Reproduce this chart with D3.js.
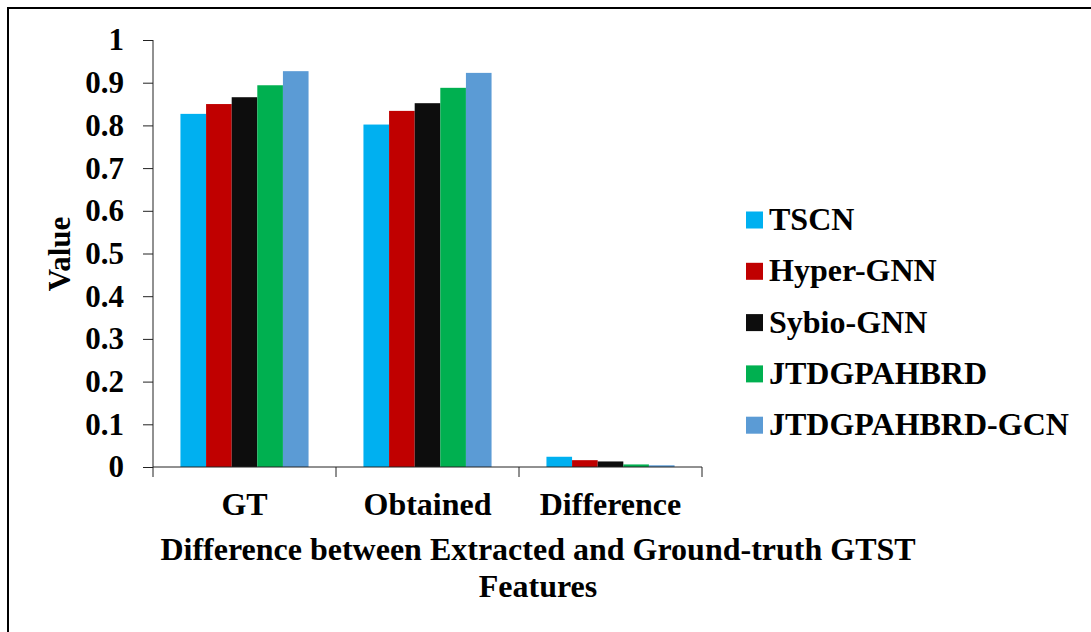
<!DOCTYPE html>
<html>
<head>
<meta charset="utf-8">
<script src="https://cdn.jsdelivr.net/npm/d3@7"></script>
<style>
  body { margin: 0; background: #fff; }
</style>
</head>
<body>
<svg id="chart"></svg>
<script>
// chart data
var categories = ["GT", "Obtained", "Difference"];
var seriesNames = ["TSCN", "Hyper-GNN", "Sybio-GNN", "JTDGPAHBRD", "JTDGPAHBRD-GCN"];
var seriesColors = ["#00B0F0", "#C00000", "#0D0D0D", "#00B050", "#5B9BD5"];
var tscn = [0.827, 0.802, 0.024];
var hyperGnn = [0.850, 0.834, 0.016];
var sybioGnn = [0.866, 0.852, 0.013];
var jtdg = [0.894, 0.888, 0.006];
var jtdgGcn = [0.927, 0.923, 0.004];
var yTicks = [0, 0.1, 0.2, 0.3, 0.4, 0.5, 0.6, 0.7, 0.8, 0.9, 1];

var seriesValues = [tscn, hyperGnn, sybioGnn, jtdg, jtdgGcn];

var width = 1091, height = 632;
var plot = { left: 153, right: 702, top: 40, bottom: 467 };
var serif = "Liberation Serif";

var svg = d3.select("#chart")
    .attr("width", width)
    .attr("height", height)
    .attr("font-family", serif)
    .attr("font-weight", "bold");

// outer frame
svg.append("rect")
    .attr("x", 8)
    .attr("y", 8)
    .attr("width", 1200)
    .attr("height", 800)
    .attr("fill", "none")
    .attr("stroke", "#000")
    .attr("stroke-width", 2);

var x0 = d3.scaleBand()
    .domain(categories)
    .range([plot.left, plot.right]);

var x1 = d3.scaleBand()
    .domain(seriesNames)
    .range([x0.bandwidth() * 0.15, x0.bandwidth() * 0.85]);

var y = d3.scaleLinear()
    .domain([0, 1])
    .range([plot.bottom, plot.top]);

// bars
var group = svg.selectAll(".group")
    .data(categories)
  .enter().append("g")
    .attr("class", "group")
    .attr("transform", function(d) { return "translate(" + x0(d) + ",0)"; });

group.selectAll("rect")
    .data(function(d, i) {
      return seriesNames.map(function(s, j) { return { name: s, value: seriesValues[j][i], color: seriesColors[j] }; });
    })
  .enter().append("rect")
    .attr("x", function(d) { return x1(d.name); })
    .attr("y", function(d) { return y(d.value); })
    .attr("width", x1.bandwidth())
    .attr("height", function(d) { return plot.bottom - y(d.value); })
    .attr("fill", function(d) { return d.color; });

// y axis
var yAxis = svg.append("g")
    .attr("transform", "translate(" + plot.left + ",0)")
    .call(d3.axisLeft(y).tickValues(yTicks).tickSize(10).tickPadding(19).tickFormat(d3.format("")));

yAxis.attr("font-family", serif).attr("font-size", 31);
yAxis.select(".domain").attr("stroke", "#222").attr("d", "M0," + plot.top + "V" + plot.bottom);
yAxis.selectAll(".tick line").attr("stroke", "#222");
yAxis.selectAll("text")
    .attr("fill", "#000")
    .attr("font-family", serif)
    .attr("font-weight", "bold");

// x axis with ticks at band boundaries
var xAxisG = svg.append("g")
    .attr("transform", "translate(0," + plot.bottom + ")");

xAxisG.append("line")
    .attr("x1", plot.left)
    .attr("x2", plot.right)
    .attr("stroke", "#222");

var boundaries = categories.map(function(c) { return x0(c); }).concat([plot.right]);
xAxisG.selectAll(".btick")
    .data(boundaries)
  .enter().append("line")
    .attr("class", "btick")
    .attr("x1", function(d) { return d; })
    .attr("x2", function(d) { return d; })
    .attr("y1", 0)
    .attr("y2", 10)
    .attr("stroke", "#222");

xAxisG.selectAll(".clabel")
    .data(categories)
  .enter().append("text")
    .attr("class", "clabel")
    .attr("x", function(d) { return x0(d) + x0.bandwidth() / 2; })
    .attr("y", 48)
    .attr("text-anchor", "middle")
    .attr("font-family", serif)
    .attr("font-size", 32)
    .text(function(d) { return d; });

// axis titles
svg.append("text")
    .attr("transform", "translate(70,254) rotate(-90)")
    .attr("text-anchor", "middle")
    .attr("font-family", serif)
    .attr("font-size", 31)
    .text("Value");

var title = svg.append("text")
    .attr("text-anchor", "middle")
    .attr("font-family", serif)
    .attr("font-size", 32);
title.append("tspan").attr("x", 538).attr("y", 560).text("Difference between Extracted and Ground-truth GTST");
title.append("tspan").attr("x", 538).attr("y", 597).text("Features");

// legend
var legend = svg.selectAll(".legend")
    .data(seriesNames)
  .enter().append("g")
    .attr("class", "legend")
    .attr("transform", function(d, i) { return "translate(746," + (220 + i * 51.3) + ")"; });

legend.append("rect")
    .attr("x", 0)
    .attr("y", -8.5)
    .attr("width", 17)
    .attr("height", 17)
    .attr("fill", function(d, i) { return seriesColors[i]; });

legend.append("text")
    .attr("x", 23)
    .attr("y", 10)
    .attr("font-family", serif)
    .attr("font-size", 32)
    .text(function(d) { return d; });
</script>
</body>
</html>
